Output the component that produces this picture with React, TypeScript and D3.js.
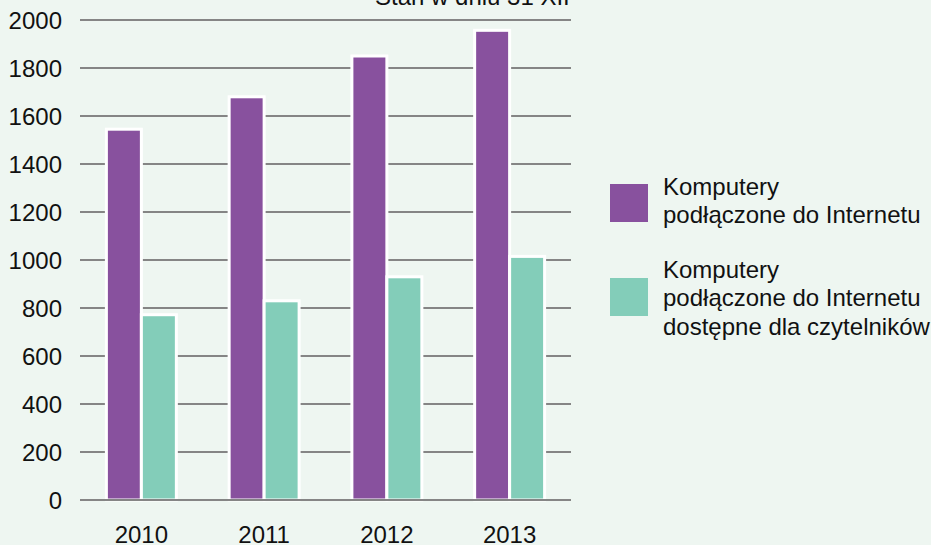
import React from "react";
import * as d3 from "d3";

const years = ["2010", "2011", "2012", "2013"];
const seriesNames = ["connected", "available"];
const connected = [1545, 1680, 1850, 1957];
const available = [772, 830, 930, 1015];
const yTicks = [0, 200, 400, 600, 800, 1000, 1200, 1400, 1600, 1800, 2000];
const legendItems = [
  { key: "connected", lines: ["Komputery", "podłączone do Internetu"] },
  { key: "available", lines: ["Komputery", "podłączone do Internetu", "dostępne dla czytelników"] },
];
const title = "Stan w dniu 31 XII";

const W = 931;
const H = 545;
const colors: Record<string, string> = { connected: "#88519e", available: "#83cdb9" };
const FONT = "'Liberation Sans', Arial, sans-serif";

export default function App() {
  const left = 80;
  const right = 571;
  const top = 20;
  const bottom = 500;

  const x0 = d3.scaleBand<string>().domain(years).range([left, right]).paddingInner(0.43).paddingOuter(0.215);
  const x1 = d3.scaleBand<string>().domain(seriesNames).range([0, x0.bandwidth()]);
  const y = d3.scaleLinear().domain([0, 2000]).range([bottom, top]);
  const values: Record<string, number[]> = { connected, available };

  return (
    <svg width={W} height={H} style={{ position: "absolute", left: 0, top: 0 }} fontFamily={FONT}>
      <rect x={0} y={0} width={W} height={H} fill="#eef6f1" />
      <text x={375} y={4.5} fontSize={24} fill="#111">{title}</text>
      {yTicks.map((t) => (
        <g key={t}>
          {t > 0 && <line x1={left} x2={right} y1={y(t)} y2={y(t)} stroke="#858585" strokeWidth={2} />}
          <text x={62} y={y(t)} dy="0.36em" textAnchor="end" fontSize={24} fill="#111">{t}</text>
        </g>
      ))}
      {years.map((yr, i) => (
        <g key={yr} transform={`translate(${x0(yr)},0)`}>
          {seriesNames.map((s) => (
            <rect
              key={s}
              x={x1(s)!}
              y={y(values[s][i])}
              width={x1.bandwidth()}
              height={bottom - y(values[s][i])}
              fill={colors[s]}
              stroke="#ffffff"
              strokeWidth={3}
            />
          ))}
          <text x={x0.bandwidth() / 2} y={543} textAnchor="middle" fontSize={24} fill="#111">{yr}</text>
        </g>
      ))}
      <line x1={left} x2={right} y1={y(0)} y2={y(0)} stroke="#858585" strokeWidth={2} />
      {legendItems.map((it, i) => {
        const sqY = i === 0 ? 184 : 278;
        const baseY = i === 0 ? 195 : 278;
        return (
          <g key={it.key}>
            <rect x={610} y={sqY} width={38} height={38} fill={colors[it.key]} />
            {it.lines.map((ln, j) => (
              <text key={j} x={663} y={baseY + j * 28.3} fontSize={24} fill="#111">{ln}</text>
            ))}
          </g>
        );
      })}
    </svg>
  );
}
